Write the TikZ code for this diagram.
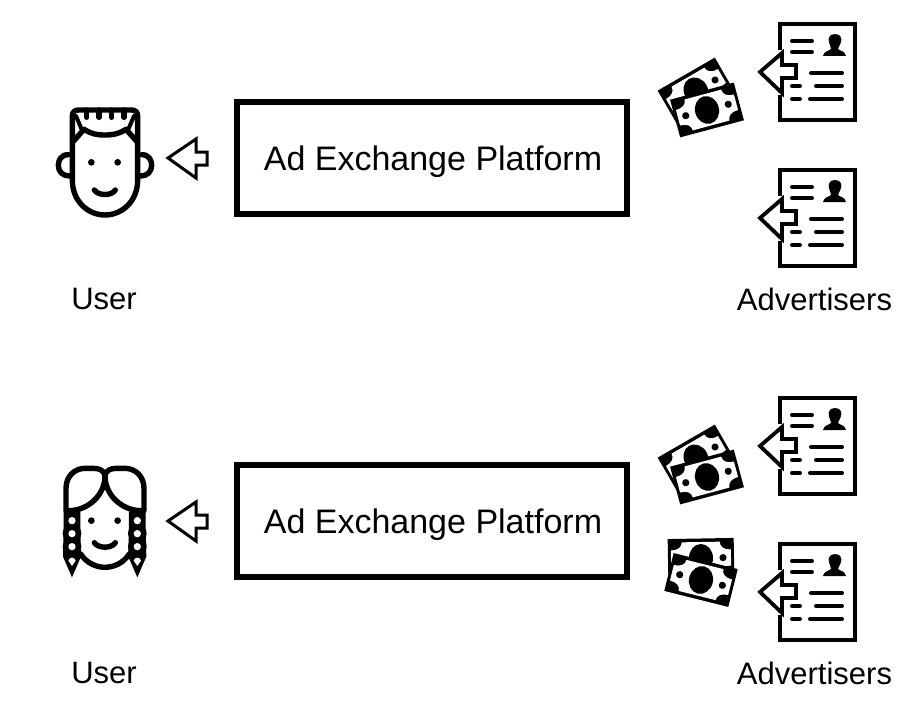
\documentclass[tikz,border=0pt]{standalone}
\usepackage{fontspec}
\setmainfont{Liberation Sans}
\tikzset{
  platform/.style={draw=black,line width=6pt,minimum width=390pt,minimum height=112pt,inner sep=0pt,font=\fontsize{34}{40}\selectfont},
  platformtext/.style={inner sep=0pt,font=\fontsize{34}{40}\selectfont},
  caption/.style={inner sep=0pt,font=\fontsize{31}{36}\selectfont},
  arrowoutline/.style={draw=black,fill=white,line width=3pt,line join=miter},
  icon/.style={draw=black,line width=5.4pt,line cap=round,line join=round},
  docline/.style={draw=black,line width=4pt,line cap=round},
  docicon/.pic={
    \draw[line width=4.4pt,line cap=butt,line join=miter] (2,28) -- (2,2) -- (77,2) -- (77,98) -- (2,98) -- (2,73);
    \draw[arrowoutline,line width=3.8pt] (-18,50) -- (4,31) -- (4,43) -- (18,43) -- (18,56) -- (4,56) -- (4,71) -- cycle;
    \draw[docline] (14,19) -- (34,19);
    \draw[docline] (14,30) -- (34,30);
    \draw[docline] (33,51) -- (64,51);
    \draw[docline] (14,64) -- (22,64);
    \draw[docline] (38,64) -- (64,64);
    \draw[docline] (14,77) -- (22,77);
    \draw[docline] (32,77) -- (64,77);
    \fill[black] (57,12) .. controls (51,12) and (50,17) .. (51,20) .. controls (52,24) and (53,25) .. (53,27) .. controls (51,29) and (46,29) .. (45,34) -- (68,34) .. controls (67,29) and (62,29) .. (60,27) .. controls (60,25) and (62,24) .. (63,20) .. controls (64,17) and (63,12) .. (57,12) -- cycle;
  },
  billicon/.pic={
    \fill[black] (-33,-19.5) rectangle (33,19.5);
    \fill[white] (-30,-8) .. controls (-23,-8) and (-19,-11) .. (-19,-16) -- (19,-16) .. controls (19,-11) and (23,-8) .. (30,-8) -- (30,8) .. controls (23,8) and (19,11) .. (19,16) -- (-19,16) .. controls (-19,11) and (-23,8) .. (-30,8) -- cycle;
    \fill[black] (0,0) ellipse [x radius=12,y radius=14];
    \fill[black] (-22,0) circle [radius=3.6];
    \fill[black] (22,0) circle [radius=3.6];
  },
  boyicon/.pic={
    \begin{scope}[x=.3333pt,y=-.3333pt]
      \draw[icon] (97,270) -- (97,78) .. controls (97,66) and (104,60) .. (116,60) -- (274,60) .. controls (286,60) and (293,66) .. (293,78) -- (293,270) .. controls (293,335) and (245,375) .. (195,375) .. controls (145,375) and (97,335) .. (97,270);
      \foreach \bx in {140,177,215,252} { \draw[icon] (\bx,60) -- (\bx,82); }
      \draw[icon] (99,155) -- (132,118) .. controls (155,132) and (170,135) .. (195,135) .. controls (220,135) and (235,132) .. (258,118) -- (291,155);
      \draw[icon,line width=4pt] (108,78) -- (125,118);
      \draw[icon,line width=4pt] (282,78) -- (265,118);
      \draw[icon] (85,194) .. controls (62,194) and (55,212) .. (55,226) .. controls (55,245) and (68,258) .. (88,258);
      \draw[icon] (305,194) .. controls (328,194) and (335,212) .. (335,226) .. controls (335,245) and (322,258) .. (302,258);
      \fill[black] (154,217) circle [radius=10];
      \fill[black] (233,217) circle [radius=10];
      \draw[icon] (163,300) .. controls (175,318) and (215,318) .. (226,300);
    \end{scope}
  },
  girlicon/.pic={
    \begin{scope}[x=.3333pt,y=-.3333pt]
      \draw[icon] (78,182) -- (78,115) .. controls (78,78) and (105,55) .. (135,55) -- (160,55) .. controls (180,55) and (190,62) .. (195,75) .. controls (196,135) and (145,180) .. (90,182) -- cycle;
      \draw[icon] (312,182) -- (312,115) .. controls (312,78) and (285,55) .. (255,55) -- (230,55) .. controls (210,55) and (200,62) .. (195,75) .. controls (194,135) and (245,180) .. (300,182) -- cycle;
      \foreach \mx in {96,292} {
        \fill[black] (\mx-25,230) -- (\mx-25,185) -- (\mx+25,185) -- (\mx+25,230) -- (\mx+27,320) -- (\mx,382) -- (\mx-27,320) -- cycle;
        \fill[black] (\mx,250) circle [radius=28];
        \fill[black] (\mx,290) circle [radius=28];
        \fill[white] (\mx,212) circle [radius=11];
        \fill[white] (\mx,251) circle [radius=11];
        \fill[white] (\mx,290) circle [radius=11];
        \fill[white] (\mx,348) -- (\mx-11,332) .. controls (\mx-8,320) and (\mx+8,320) .. (\mx+11,332) -- cycle;
      }
      \draw[icon] (122,312) .. controls (140,340) and (170,352) .. (195,352) .. controls (220,352) and (250,340) .. (268,312);
      \fill[black] (154,212) circle [radius=10];
      \fill[black] (233,212) circle [radius=10];
      \draw[icon] (163,278) .. controls (175,296) and (215,296) .. (226,278);
    \end{scope}
  },
  sendarrow/.pic={
    \draw[arrowoutline] (0,0) -- (28,-19) -- (28,-6) -- (39,-6) -- (39,7) -- (28,7) -- (28,20) -- cycle;
  }
}
\begin{document}
\begin{tikzpicture}[x=1pt,y=-1pt]
  \useasboundingbox[fill=white] (0,0) rectangle (914,701);
  % top row
  \pic (boy) at (40,90) {boyicon};
  \pic (sendtop) at (168,158) {sendarrow};
  \node[platform] (platformtop) at (432,158) {};
  \node[platformtext] (labeltop) at (433,162) {Ad Exchange Platform};
  \pic (doca) at (778,22) {docicon};
  \pic (docb) at (778,168) {docicon};
  \pic[rotate=30] (billa) at (696,91) {billicon};
  \pic[rotate=15] (billb) at (707,110) {billicon};
  \node[caption] (usertop) at (104,299) {User};
  \node[caption] (advtop) at (814.5,299) {Advertisers};
  % bottom row
  \pic (girl) at (40,450) {girlicon};
  \pic (sendbot) at (168,521) {sendarrow};
  \node[platform] (platformbot) at (432,521) {};
  \node[platformtext] (labelbot) at (433,525) {Ad Exchange Platform};
  \pic (docc) at (778,396) {docicon};
  \pic (docd) at (778,542) {docicon};
  \pic[rotate=30] (billc) at (696,458) {billicon};
  \pic[rotate=15] (billd) at (707,477) {billicon};
  \pic[rotate=1] (bille) at (701,558) {billicon};
  \pic[rotate=-14] (billf) at (701,580) {billicon};
  \node[caption] (userbot) at (104,673) {User};
  \node[caption] (advbot) at (814.5,673) {Advertisers};
\end{tikzpicture}
\end{document}
